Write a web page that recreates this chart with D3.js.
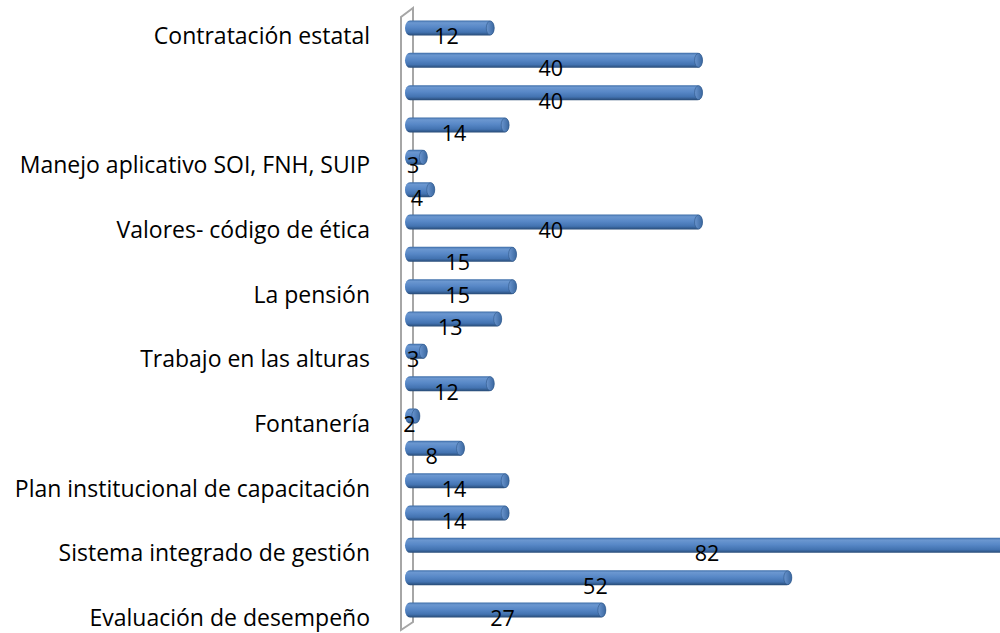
<!DOCTYPE html>
<html>
<head>
<meta charset="utf-8">
<script src="https://cdn.jsdelivr.net/npm/d3@7"></script>
<style>
  body { margin: 0; background: #fff; }
  svg { display: block; }
  text { font-family: "Open Sans", sans-serif; fill: #000; }
</style>
</head>
<body>
<svg id="chart"></svg>
<script>
var width = 1000;
var height = 633;

// categories top to bottom (blank ones have no visible label)
var categories = [
  "Contratación estatal", "", "", "",
  "Manejo aplicativo SOI, FNH, SUIP", "",
  "Valores- código de ética", "",
  "La pensión", "",
  "Trabajo en las alturas", "",
  "Fontanería", "",
  "Plan institucional de capacitación", "",
  "Sistema integrado de gestión", "",
  "Evaluación de desempeño"
];
var values = [12, 40, 40, 14, 3, 4, 40, 15, 15, 13, 3, 12, 2, 8, 14, 14, 82, 52, 27];

var svg = d3.select("#chart")
    .attr("width", width)
    .attr("height", height);

var xScale = d3.scaleLinear()
    .domain([0, 82])
    .range([405, 1015]);

var yScale = d3.scalePoint()
    .domain(d3.range(values.length))
    .range([28, 610]);

var barH = 15;

// gradients for the cylinder look
var defs = svg.append("defs");
var g = defs.append("linearGradient")
    .attr("id", "cyl")
    .attr("x1", 0).attr("y1", 0).attr("x2", 0).attr("y2", 1);
g.append("stop").attr("offset", "0%").attr("stop-color", "#3d6da8");
g.append("stop").attr("offset", "15%").attr("stop-color", "#6b97d0");
g.append("stop").attr("offset", "45%").attr("stop-color", "#5888c7");
g.append("stop").attr("offset", "78%").attr("stop-color", "#4373b1");
g.append("stop").attr("offset", "100%").attr("stop-color", "#274a75");

var cap = defs.append("linearGradient")
    .attr("id", "cap")
    .attr("x1", 0).attr("y1", 0).attr("x2", 1).attr("y2", 0);
cap.append("stop").attr("offset", "0%").attr("stop-color", "#6a95cf");
cap.append("stop").attr("offset", "100%").attr("stop-color", "#3a679f");

// back wall / axis outline
svg.append("path")
    .attr("d", "M401,630 L401,17 L413,8 L413,622 Z")
    .attr("fill", "none")
    .attr("stroke", "#a6a6a6")
    .attr("stroke-width", 2);

var bars = svg.append("g")
    .selectAll("g")
    .data(values)
    .enter()
    .append("g");

bars.append("rect")
    .attr("x", xScale(0))
    .attr("y", (d, i) => yScale(i) - barH / 2)
    .attr("width", d => Math.max(xScale(d) - xScale(0), 8))
    .attr("height", barH)
    .attr("rx", 5)
    .attr("ry", barH / 2)
    .attr("fill", "url(#cyl)");

bars.append("ellipse")
    .attr("cx", d => Math.max(xScale(d), xScale(0) + 8) - 4)
    .attr("cy", (d, i) => yScale(i))
    .attr("rx", 4)
    .attr("ry", barH / 2 - 0.5)
    .attr("fill", "url(#cap)")
    .attr("stroke", "#2f5888")
    .attr("stroke-width", 0.6);

// value labels
bars.append("text")
    .attr("x", d => (xScale(0) + xScale(d)) / 2 - 3)
    .attr("y", (d, i) => yScale(i) + 16)
    .attr("text-anchor", "middle")
    .style("font-size", "21.5px")
    .text(d => d);

// category labels
svg.append("g")
    .selectAll("text")
    .data(categories)
    .enter()
    .append("text")
    .attr("x", 370)
    .attr("y", (d, i) => yScale(i) + 16)
    .attr("text-anchor", "end")
    .style("font-size", "23px")
    .text(d => d);
</script>
</body>
</html>
